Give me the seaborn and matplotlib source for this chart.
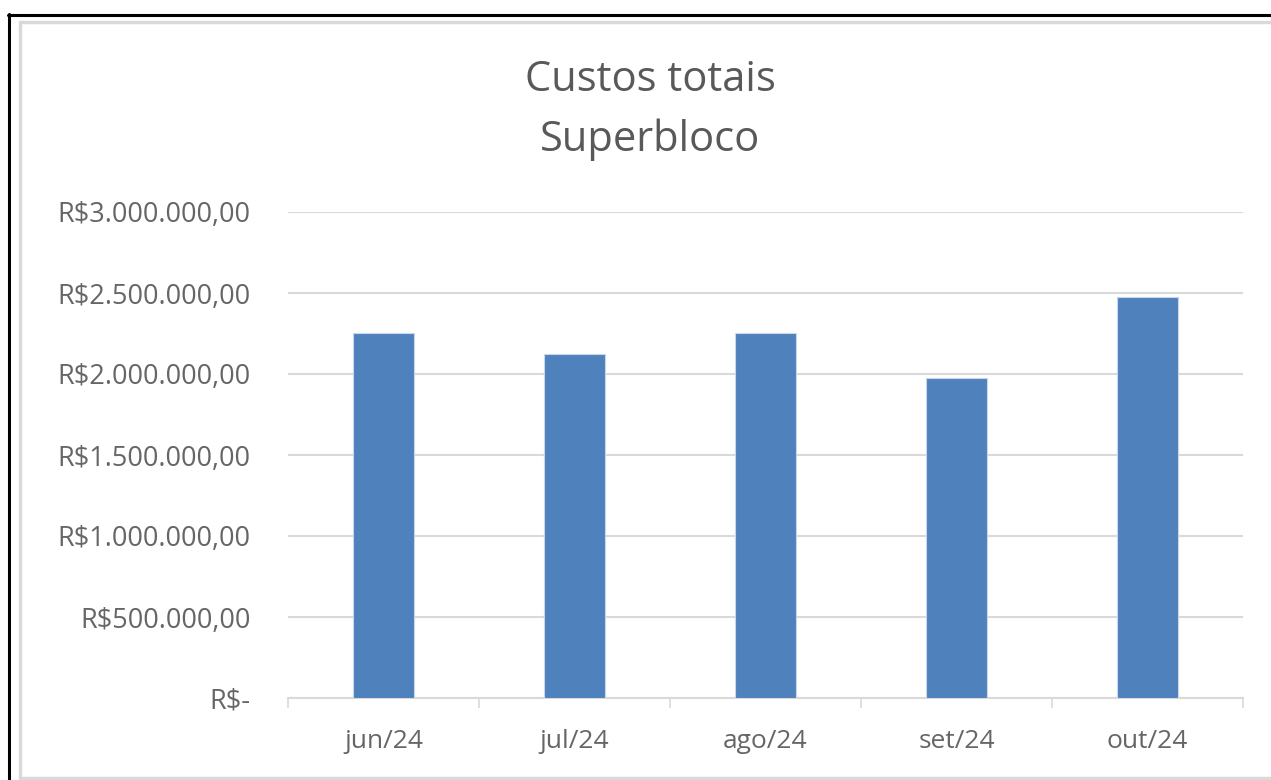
import matplotlib
matplotlib.use("Agg")
import matplotlib.pyplot as plt
import seaborn as sns
import pandas as pd
from matplotlib.ticker import FuncFormatter, FixedLocator
from matplotlib.lines import Line2D

# ── Data ──────────────────────────────────────────────
months = ["jun/24", "jul/24", "ago/24", "set/24", "out/24"]
costs = [2251000, 2123000, 2251000, 1975000, 2473000]
title = "Custos totais\nSuperbloco"
# ──────────────────────────────────────────────────────

W, H = 1271, 780
GREY_TXT = "#595959"
TICK_TXT = "#666666"
GRID = "#D9D9D9"
BAR = "#4F81BD"

sns.set_theme(style="white")
plt.rcParams["font.family"] = ["Open Sans", "DejaVu Sans"]

df = pd.DataFrame({"mes": months, "custo": costs})

fig = plt.figure(figsize=(W / 100, H / 100), dpi=100)
ax = fig.add_axes([288 / W, 1 - 698 / H, (1243 - 288) / W, (698 - 212) / H])

sns.barplot(data=df, x="mes", y="custo", color=BAR, width=0.315,
            saturation=1, ax=ax, edgecolor="#C9D7EA", linewidth=0.8, zorder=3)


def brl(v, _pos):
    if v == 0:
        return "R$-"
    s = f"{v:,.2f}"
    s = s.replace(",", "X").replace(".", ",").replace("X", ".")
    return "R$" + s


ax.set_ylim(0, 3000000)
ax.set_xlim(-0.5, len(months) - 0.5)
ax.yaxis.set_major_locator(FixedLocator([i * 500000 for i in range(7)]))
ax.yaxis.set_major_formatter(FuncFormatter(brl))
ax.xaxis.set_minor_locator(FixedLocator([i - 0.5 for i in range(len(months) + 1)]))

ax.grid(axis="y", color=GRID, linewidth=1.5, zorder=0)
ax.set_axisbelow(True)
for side in ["top", "right", "left"]:
    ax.spines[side].set_visible(False)
ax.spines["bottom"].set_color(GRID)
ax.spines["bottom"].set_linewidth(1.5)

ax.tick_params(axis="y", length=0, pad=27, labelsize=19.5, labelcolor=TICK_TXT)
ax.tick_params(axis="x", which="major", length=0, pad=22, labelsize=19, labelcolor=TICK_TXT)
ax.tick_params(axis="x", which="minor", length=7, width=1.2, color=GRID, bottom=True)
ax.set_xlabel("")
ax.set_ylabel("")

t1, t2 = title.split("\n")
fig.text(650 / W, 1 - 80 / H, t1, ha="center", va="center",
         fontsize=30, color=GREY_TXT)
fig.text(650 / W, 1 - 140 / H, t2, ha="center", va="center",
         fontsize=30, color=GREY_TXT)

# chart frame (image is cropped on the right and bottom)
frame = [
    ((8.5, 8.5), (14, H), "black", 2.2),
    ((8, W), (14.5, 14.5), "black", 2.2),
    ((20, 20), (22, 778), GRID, 2.5),
    ((20, W), (22, 22), GRID, 2.5),
    ((20, W), (778, 778), GRID, 2.5),
]
for xs, ys, col, lw in frame:
    fig.add_artist(Line2D([x / W for x in xs], [1 - y / H for y in ys],
                          transform=fig.transFigure, color=col, linewidth=lw))

fig.savefig("out.png", dpi=100, facecolor="white")
